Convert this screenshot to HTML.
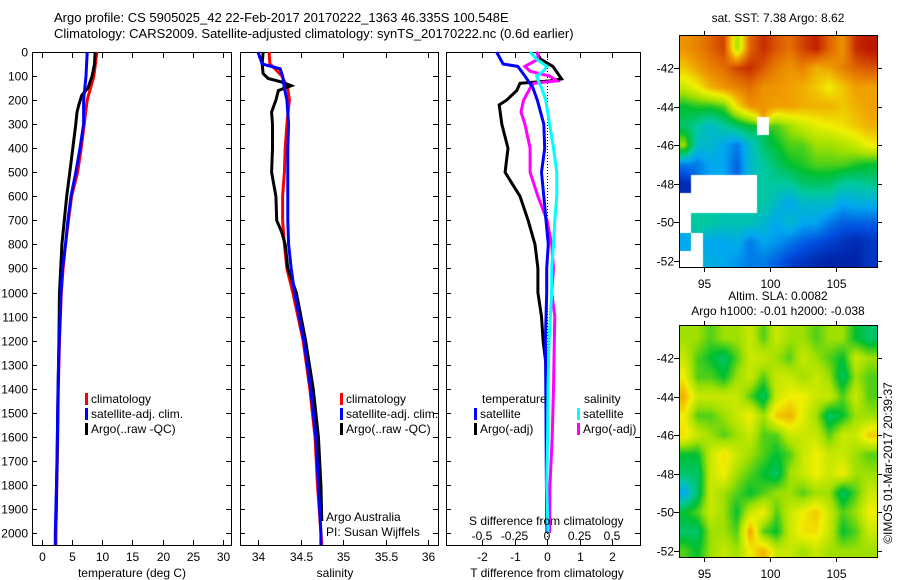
<!DOCTYPE html>
<html><head><meta charset="utf-8"><style>
html,body{margin:0;padding:0;background:#fff;}
#wrap{position:relative;width:900px;height:580px;overflow:hidden;font-family:"Liberation Sans",sans-serif;}
canvas{position:absolute;}
svg{position:absolute;left:0;top:0;}
text{font-family:"Liberation Sans",sans-serif;fill:#000;}
</style></head><body>
<div id="wrap">
<canvas id="sst" width="198" height="232" style="left:679px;top:35px"></canvas>
<canvas id="sla" width="198" height="232" style="left:679px;top:325px"></canvas>
<svg id="fig" width="900" height="580">
<text x="54" y="22" font-size="13">Argo profile: CS 5905025_42 22-Feb-2017 20170222_1363 46.335S 100.548E</text>
<text x="54" y="38" font-size="13">Climatology: CARS2009. Satellite-adjusted climatology: synTS_20170222.nc (0.6d earlier)</text>
<text x="778" y="22" font-size="12" text-anchor="middle">sat. SST: 7.38 Argo: 8.62</text>
<text x="778" y="300" font-size="12" text-anchor="middle">Altim. SLA: 0.0082</text>
<text x="778" y="315" font-size="12" text-anchor="middle">Argo h1000: -0.01 h2000: -0.038</text>
<text transform="translate(892,463) rotate(-90)" font-size="12" text-anchor="middle">©IMOS 01-Mar-2017 20:39:37</text>
<g id="g"></g>
</svg>
</div>
<script>
// ---- data ----
const tempDepths = [0,100,200,300,400,500,600,700,800,900,1000,1200,1400,1600,1800,2000,2050];
const tempClim   = [9.1,8.6,7.5,7.0,6.5,5.9,4.9,4.4,3.9,3.5,3.2,2.9,2.7,2.6,2.45,2.3,2.3];
const tempSat    = [7.5,7.3,6.9,6.9,6.3,5.6,4.8,4.3,3.9,3.4,3.15,2.85,2.65,2.55,2.4,2.2,2.2];
const argoDepths = [0,50,100,150,180,220,250,300,400,500,600,700,800,900,1000,1200,1500,1700,1950];
const tempArgo   = [8.8,8.7,8.3,7.6,6.6,6.1,5.8,5.6,5.1,4.6,4.1,3.7,3.3,3.1,2.9,2.8,2.6,2.5,2.3];

const salDepths  = [0,50,70,100,150,200,300,400,500,600,700,800,900,1000,1200,1400,1600,1800,2000,2050];
const salClim    = [34.13,34.14,34.2,34.28,34.35,34.37,34.34,34.32,34.31,34.29,34.29,34.31,34.34,34.41,34.53,34.61,34.67,34.70,34.74,34.75];
const salSat     = [34.0,34.05,34.26,34.29,34.31,34.34,34.36,34.35,34.35,34.35,34.35,34.36,34.39,34.43,34.54,34.62,34.68,34.71,34.74,34.74];
const salArgoDepths = [0,50,90,110,125,140,160,200,250,300,400,500,600,700,750,800,900,1000,1200,1400,1600,1800,1950];
const salArgo    = [34.06,34.05,34.06,34.12,34.28,34.39,34.24,34.21,34.16,34.17,34.17,34.16,34.21,34.22,34.28,34.32,34.35,34.45,34.56,34.65,34.71,34.74,34.75];

const dtSatDepths = [0,50,60,100,150,200,300,400,500,600,700,800,900,1000,1200,1500,1800,2000];
const dtSat       = [-1.55,-1.35,-0.9,-0.68,-0.43,-0.3,-0.1,-0.07,-0.17,-0.1,-0.03,0.04,-0.01,-0.01,-0.05,-0.03,-0.02,0];
const dtArgoDepths= [0,30,60,112,120,130,160,200,220,300,400,500,600,700,800,900,1000,1100,1200,1300,1500,1800,2000];
const dtArgo      = [-0.32,-0.2,0.18,0.45,0.1,-0.83,-0.93,-1.24,-1.47,-1.39,-1.2,-1.29,-0.83,-0.58,-0.37,-0.28,-0.28,-0.17,-0.12,-0.03,-0.02,-0.01,0];
const dsSatDepths = [0,30,60,80,100,130,150,200,300,400,500,600,700,800,900,1000,1200,1400,1600,1800,2000];
const dsSat       = [-0.13,-0.08,0,-0.03,-0.08,-0.06,-0.04,-0.01,0.02,0.05,0.075,0.075,0.06,0.05,0.036,0.036,0.015,0.008,0.005,-0.002,0.008];
const dsArgoDepths= [0,30,60,80,100,120,130,150,200,250,300,400,500,600,700,800,900,1000,1100,1200,1400,1600,1800,2000];
const dsArgo      = [-0.07,-0.07,-0.17,-0.13,0.02,0.075,-0.1,-0.13,-0.18,-0.2,-0.17,-0.13,-0.13,-0.07,0,0.036,0.05,0.036,0.06,0.056,0.05,0.04,0.023,0.02];

const depthTicks = [0,100,200,300,400,500,600,700,800,900,1000,1100,1200,1300,1400,1500,1600,1700,1800,1900,2000];
const tempTicks = [0,5,10,15,20,25,30];
const salTicks = [34,34.5,35,35.5,36];
const dtTicks = [-2,-1,0,1,2];
const dsTicks = [-0.5,-0.25,0,0.25,0.5];
const dsTickLabels = ["-0.5","-0.25","0","0.25","0.5"];

const sstLons = [93.5,94.5,95.5,96.5,97.5,98.5,99.5,100.5,101.5,102.5,103.5,104.5,105.5,106.5,107.5];
const sstLats = [-41,-42,-43,-44,-45,-46,-47,-48,-49,-50,-51,-52];
const N=null;
const sstGrid = [
[0.72,0.75,0.8,0.85,0.5,0.8,0.88,0.82,0.78,0.85,0.9,0.8,0.72,0.88,0.92],
[0.65,0.7,0.75,0.78,0.85,0.88,0.82,0.75,0.72,0.75,0.68,0.7,0.75,0.8,0.82],
[0.55,0.6,0.68,0.72,0.75,0.78,0.72,0.72,0.7,0.68,0.65,0.6,0.65,0.7,0.7],
[0.4,0.42,0.42,0.45,0.62,0.72,0.72,0.7,0.7,0.68,0.68,0.68,0.65,0.68,0.7],
[0.35,0.3,0.25,0.3,0.35,0.4,N,0.45,0.5,0.55,0.58,0.6,0.62,0.65,0.68],
[0.5,0.25,0.25,0.2,0.15,0.25,0.35,0.4,0.45,0.45,0.5,0.5,0.52,0.55,0.6],
[0.15,0.15,0.2,0.2,0.12,0.25,0.3,0.35,0.4,0.42,0.45,0.45,0.45,0.42,0.4],
[0.04,N,N,N,N,N,0.3,0.3,0.3,0.35,0.35,0.35,0.3,0.3,0.32],
[N,N,N,N,N,N,0.3,0.25,0.2,0.25,0.25,0.25,0.2,0.22,0.22],
[N,0.3,0.3,0.28,0.28,0.28,0.25,0.2,0.25,0.2,0.2,0.15,0.12,0.12,0.12],
[0.2,N,0.2,0.2,0.22,0.15,0.2,0.18,0.15,0.12,0.1,0.08,0.06,0.04,0.06],
[N,N,0.22,0.2,0.18,0.15,0.15,0.12,0.08,0.06,0.04,0.03,0.03,0.03,0.06]];
const slaGrid = [
[0.5,0.5,0.45,0.5,0.5,0.55,0.45,0.55,0.5,0.5,0.45,0.5,0.5,0.4,0.35],
[0.55,0.45,0.4,0.35,0.45,0.55,0.55,0.5,0.45,0.55,0.5,0.45,0.4,0.55,0.5],
[0.6,0.45,0.45,0.4,0.5,0.55,0.45,0.55,0.55,0.5,0.55,0.5,0.35,0.5,0.45],
[0.68,0.55,0.55,0.55,0.55,0.45,0.35,0.55,0.6,0.6,0.55,0.55,0.45,0.55,0.45],
[0.6,0.45,0.45,0.5,0.55,0.6,0.5,0.65,0.68,0.58,0.5,0.35,0.4,0.5,0.5],
[0.62,0.55,0.5,0.45,0.5,0.55,0.45,0.45,0.55,0.55,0.55,0.45,0.55,0.55,0.65],
[0.4,0.4,0.55,0.62,0.55,0.5,0.45,0.4,0.45,0.55,0.6,0.55,0.55,0.5,0.45],
[0.35,0.35,0.55,0.6,0.5,0.45,0.4,0.35,0.5,0.55,0.6,0.55,0.6,0.5,0.5],
[0.2,0.35,0.55,0.5,0.45,0.4,0.45,0.5,0.5,0.45,0.5,0.5,0.35,0.45,0.55],
[0.4,0.45,0.55,0.5,0.4,0.55,0.6,0.45,0.55,0.6,0.65,0.55,0.45,0.5,0.6],
[0.35,0.35,0.5,0.5,0.45,0.7,0.45,0.4,0.55,0.62,0.62,0.55,0.4,0.45,0.55],
[0.45,0.4,0.5,0.55,0.5,0.6,0.68,0.55,0.55,0.5,0.55,0.5,0.5,0.5,0.5]];
const latTicks=[-42,-44,-46,-48,-50,-52];
const lonTicks=[95,100,105];

// ---- helpers ----
const NS="http://www.w3.org/2000/svg";
const G=document.getElementById('g');
function mk(tag,attrs,parent){const e=document.createElementNS(NS,tag);for(const k in attrs)e.setAttribute(k,attrs[k]);(parent||G).appendChild(e);return e;}
const yD = d => 52 + d*0.2405;
const panels=[
 {name:'temperature-panel',x0:32,x1:231,sx:v=>42+v*6.033,ticks:tempTicks,label:'temperature (deg C)',lx:132},
 {name:'salinity-panel',x0:240,x1:438,sx:v=>258+(v-34)*85,ticks:salTicks,label:'salinity',lx:335},
 {name:'difference-panel',x0:446,x1:640,sx:v=>547+v*32.5,ticks:dtTicks,label:'T difference from climatology',lx:547}
];
const tickLbl = {0:tempTicks.map(String),1:["34","34.5","35","35.5","36"],2:["-2","-1","0","1","2"]};
panels.forEach((p,i)=>{
  const f=mk('rect',{x:p.x0+0.5,y:52.5,width:p.x1-p.x0,height:493,fill:'none',stroke:'#000','stroke-width':1});
  
  
  depthTicks.forEach(d=>{
    const y=Math.round(yD(d))+0.5;
    mk('line',{x1:p.x0,x2:p.x0+5,y1:y,y2:y,stroke:'#000'});
    mk('line',{x1:p.x1-5,x2:p.x1,y1:y,y2:y,stroke:'#000'});
    if(i===0){const t=mk('text',{x:28,y:y+4,'font-size':12,'text-anchor':'end'});t.textContent=d;
      
      }
  });
  p.ticks.forEach((v,j)=>{
    const x=Math.round(p.sx(v))+0.5;
    mk('line',{x1:x,x2:x,y1:53,y2:58,stroke:'#000'});
    mk('line',{x1:x,x2:x,y1:540,y2:546,stroke:'#000'});
    const t=mk('text',{x:x,y:561,'font-size':12,'text-anchor':'middle'});t.textContent=tickLbl[i][j];
    
    
  });
  const lt=mk('text',{x:p.lx,y:577,'font-size':12,'text-anchor':'middle'});lt.textContent=p.label;
  
  
});
function line(depths,vals,sx,color,name){
  let pts=depths.map((d,k)=>sx(vals[k]).toFixed(1)+','+yD(d).toFixed(1)).join(' ');
  const e=mk('polyline',{points:pts,fill:'none',stroke:color,'stroke-width':3,'stroke-linejoin':'miter'});
  
  
}
const P=panels;
line(tempDepths,tempClim,P[0].sx,'#f00','temp-climatology-line');
line(argoDepths,tempArgo,P[0].sx,'#000','temp-argo-line');
line(tempDepths,tempSat,P[0].sx,'#00f','temp-satellite-line');
line(salDepths,salClim,P[1].sx,'#f00','sal-climatology-line');
line(salArgoDepths,salArgo,P[1].sx,'#000','sal-argo-line');
line(salDepths,salSat,P[1].sx,'#00f','sal-satellite-line');
const zx=Math.round(P[2].sx(0))+0.5;
const zl=mk('line',{x1:zx,x2:zx,y1:53,y2:545,stroke:'#000','stroke-dasharray':'1,2'});


const sxS=v=>547+v*130;
line(dtArgoDepths,dtArgo,P[2].sx,'#000','dt-argo-line');
line(dsArgoDepths,dsArgo,sxS,'#f0f','ds-argo-line');
line(dtSatDepths,dtSat,P[2].sx,'#00f','dt-satellite-line');
line(dsSatDepths,dsSat,sxS,'#0ff','ds-satellite-line');
dsTicks.forEach((v,j)=>{const t=mk('text',{x:sxS(v),y:540,'font-size':12,'text-anchor':'middle'});t.textContent=dsTickLabels[j];
  
  });
function txt(x,y,s,name,anchor){const t=mk('text',{x:x,y:y,'font-size':12,'text-anchor':anchor||'start'});t.textContent=s;
  
  return t;}
txt(469,525,'S difference from climatology','s-diff-axis-title');
txt(326,521,'Argo Australia','credit-line-1');
txt(326,536,'PI: Susan Wijffels','credit-line-2');
function leg(x,y,c,s){const r=mk('rect',{x:x,y:y-10,width:3,height:12,fill:c});
  
  
  txt(x+6,y,s,'legend-entry');}
[[85,'#f00','climatology'],[85,'#00f','satellite-adj. clim.'],[85,'#000','Argo(..raw -QC)']].forEach((e,k)=>leg(e[0],403+k*15,e[1],e[2]));
[[340,'#f00','climatology'],[340,'#00f','satellite-adj. clim.'],[340,'#000','Argo(..raw -QC)']].forEach((e,k)=>leg(e[0],403+k*15,e[1],e[2]));
txt(482,403,'temperature','legend-heading');
txt(584,403,'salinity','legend-heading');
leg(474,418,'#00f','satellite');leg(474,433,'#000','Argo(-adj)');
leg(577,418,'#0ff','satellite');leg(577,433,'#f0f','Argo(-adj)');

// maps axes
const mx=lon=>770+(lon-100)*13.2;
[[35,'sst'],[325,'sla']].forEach(([top,nm])=>{
  const my=lat=>top+33+(-42-lat)*19.3;
  const f=mk('rect',{x:679.5,y:top+0.5,width:198,height:232,fill:'none',stroke:'#000'});
  
  
  latTicks.forEach(l=>{const y=Math.round(my(l))+0.5;
    mk('line',{x1:674,x2:680,y1:y,y2:y,stroke:'#000'});mk('line',{x1:877,x2:882,y1:y,y2:y,stroke:'#000'});
    txt(674,y+4,String(l),'lat-tick-label','end');});
  lonTicks.forEach(l=>{const x=Math.round(mx(l))+0.5;
    mk('line',{x1:x,x2:x,y1:top-4,y2:top,stroke:'#000'});mk('line',{x1:x,x2:x,y1:top+232,y2:top+237,stroke:'#000'});
    txt(x,top+253,String(l),'lon-tick-label','middle');});
});

// colormap
const pal=[[0,16,144],[0,80,224],[0,168,240],[0,200,160],[0,192,48],[160,224,0],[240,240,0],[240,160,0],[224,100,0],[192,32,0],[160,0,0]];
function col(v){v=Math.max(0,Math.min(1,v))*10;const i=Math.min(9,Math.floor(v)),f=v-i;const a=pal[i],b=pal[i+1];
  return 'rgb('+a.map((c,k)=>Math.round(c+(b[k]-c)*f)).join(',')+')';}
function drawMap(id,grid){
  const ctx=document.getElementById(id).getContext('2d');
  ctx.fillStyle='#fff';ctx.fillRect(0,0,198,232);
  const B=2;
  for(let py=0;py<232;py+=B){for(let px=0;px<198;px+=B){
    const lon=(679+px+1-770)/13.2+100, lat=-42-((35+py+1)-68)/19.3;
    const fx=lon-sstLons[0], fy=sstLats[0]-lat;
    const cx=Math.max(0,Math.min(14,fx)), cy=Math.max(0,Math.min(11,fy));
    const nx=Math.round(cx), ny=Math.round(cy);
    if(grid[ny][nx]===null) continue;
    const x0=Math.floor(cx),y0=Math.floor(cy),x1=Math.min(14,x0+1),y1=Math.min(11,y0+1),tx=cx-x0,ty=cy-y0;
    let s=0,w=0;
    [[x0,y0,(1-tx)*(1-ty)],[x1,y0,tx*(1-ty)],[x0,y1,(1-tx)*ty],[x1,y1,tx*ty]].forEach(([a,b,ww])=>{const v=grid[b][a];if(v!==null){s+=v*ww;w+=ww;}});
    ctx.fillStyle=col(s/w);ctx.fillRect(px,py,B,B);
  }}
}
drawMap('sst',sstGrid);drawMap('sla',slaGrid);
</script>
</body></html>
